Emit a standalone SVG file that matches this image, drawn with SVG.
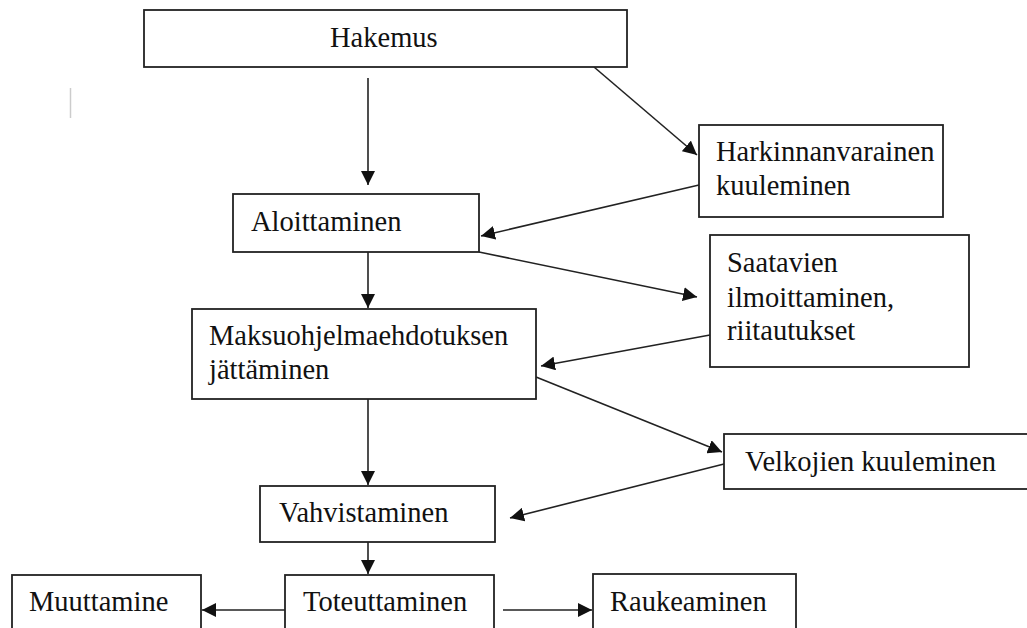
<svg xmlns="http://www.w3.org/2000/svg" width="1027" height="628" viewBox="0 0 1027 628">
<style>
.box{fill:#fff;stroke:#222;stroke-width:1.8}
.t{font-size:28.5px;fill:#111}
.c{stroke:#222;stroke-width:1.6;fill:none;marker-end:url(#ah)}
</style>
<defs>
<marker id="ah" viewBox="0 0 10 10" refX="10" refY="5" markerWidth="14" markerHeight="14" markerUnits="userSpaceOnUse" orient="auto">
<path d="M0,0 L10,5 L0,10 z" fill="#111"/>
</marker>
</defs>
<rect width="1027" height="628" fill="#fff"/>
<line x1="70.5" y1="88" x2="70.5" y2="118" stroke="#ccc" stroke-width="1.5"/>
<g id="connectors">
<line class="c" x1="368" y1="78" x2="368" y2="185"/>
<line class="c" x1="594" y1="67" x2="697" y2="155"/>
<line class="c" x1="699" y1="185" x2="481" y2="236"/>
<line class="c" x1="368" y1="252" x2="368" y2="308"/>
<line class="c" x1="479" y1="252" x2="697" y2="297"/>
<line class="c" x1="710" y1="335" x2="541" y2="366"/>
<line class="c" x1="368" y1="399" x2="368" y2="485"/>
<line class="c" x1="536" y1="377" x2="722" y2="452"/>
<line class="c" x1="724" y1="464" x2="510" y2="518"/>
<line class="c" x1="368" y1="542" x2="368" y2="574"/>
<line class="c" x1="285" y1="610" x2="202" y2="610"/>
<line class="c" x1="503" y1="610" x2="592" y2="610"/>
</g>
<g font-family="Liberation Serif, Times New Roman, serif">
<g id="hakemus"><rect class="box" x="144" y="10" width="483" height="57"/><text class="t" x="330" y="47">Hakemus</text></g>
<g id="harkinnan"><rect class="box" x="699" y="125" width="244" height="92"/><text class="t" x="716" y="161">Harkinnanvarainen</text><text class="t" x="716" y="195">kuuleminen</text></g>
<g id="aloittaminen"><rect class="box" x="233" y="194" width="246" height="58"/><text class="t" x="251" y="231">Aloittaminen</text></g>
<g id="saatavien"><rect class="box" x="710" y="235" width="259" height="132"/><text class="t" x="727" y="272">Saatavien</text><text class="t" x="727" y="307">ilmoittaminen,</text><text class="t" x="727" y="340">riitautukset</text></g>
<g id="maksuohjelma"><rect class="box" x="192" y="309" width="344" height="90"/><text class="t" x="209" y="345">Maksuohjelmaehdotuksen</text><text class="t" x="209" y="379">jättäminen</text></g>
<g id="velkojien"><rect class="box" x="724" y="434" width="320" height="55"/><text class="t" x="745" y="471">Velkojien kuuleminen</text></g>
<g id="vahvistaminen"><rect class="box" x="260" y="486" width="235" height="56"/><text class="t" x="279" y="522">Vahvistaminen</text></g>
<g id="toteuttaminen"><rect class="box" x="285" y="575" width="209" height="70"/><text class="t" x="303" y="611">Toteuttaminen</text></g>
<g id="muuttamine"><rect class="box" x="12" y="575" width="189" height="70"/><text class="t" x="29" y="611">Muuttamine</text></g>
<g id="raukeaminen"><rect class="box" x="593" y="574" width="203" height="70"/><text class="t" x="610" y="611">Raukeaminen</text></g>
</g>
</svg>
